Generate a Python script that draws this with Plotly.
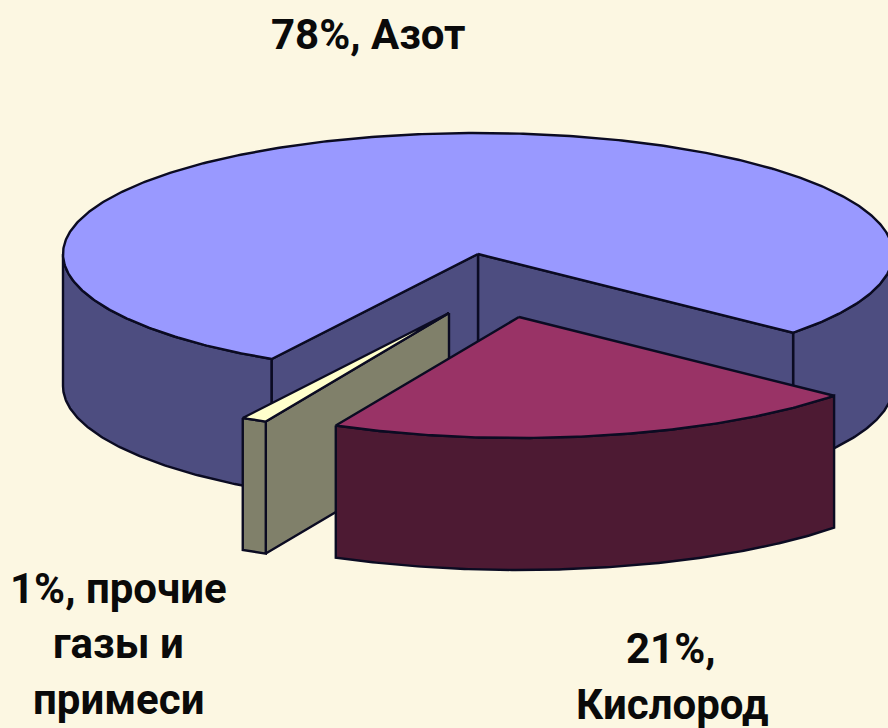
import numpy as np
import plotly.graph_objects as go

# Data
names = ["Кислород", "Прочие газы и примеси", "Азот"]
shares = [21, 1, 78]
label_lines = [["21%,", "Кислород"], ["1%, прочие", "газы и", "примеси"], ["78%, Азот"]]

# Style / projection
W, H = 888, 728
A, B, DEPTH = 415, 121, 132
START_DEG = -26.2
APEX = [(519, 317), (449, 313), (478, 254)]
TOP = ["#993366", "#FFFFCC", "#9999FF"]
SIDE = ["#4D1A33", "#80806A", "#4D4D80"]
BG = "#FCF7E2"
LABEL_POS = [(671, 648, 672, 704), (118, 588, 118, 643, 118, 699), (368, 34)]


def pt(apex, deg, drop=0):
    r = np.radians(deg)
    return apex[0] + A * np.sin(r), apex[1] + B * np.cos(r) + drop


def arc(apex, a0, a1, drop=0):
    t = np.linspace(a0, a1, max(3, int(abs(a1 - a0) * 2)))
    return pt(apex, t, drop)


def poly(fig, xs, ys, fill, lw=2.4, line="#0B0B22"):
    fig.add_trace(go.Scatter(x=list(xs) + [xs[0]], y=list(ys) + [ys[0]], mode="lines",
                             fill="toself", fillcolor=fill,
                             line=dict(color=line, width=lw), hoverinfo="skip", showlegend=False))


def outer(fig, apex, a0, a1, color):
    x0, y0 = arc(apex, a0, a1)
    x1, y1 = arc(apex, a1, a0, DEPTH)
    poly(fig, np.r_[x0, x1], np.r_[y0, y1], color)


def wall(fig, apex, deg, color):
    ex, ey = pt(apex, deg)
    poly(fig, [apex[0], ex, ex, apex[0]], [apex[1], ey, ey + DEPTH, apex[1] + DEPTH], color)


red0 = START_DEG
red1 = red0 + shares[0] * 3.6
grey1 = red0
grey0 = grey1 - shares[1] * 3.6
nit0 = red1
nit1 = nit0 + shares[2] * 3.6

fig = go.Figure()

# Nitrogen: walls, visible rim, then top
outer(fig, APEX[2], nit0, 90, SIDE[2])
outer(fig, APEX[2], 270, nit1, SIDE[2])
wall(fig, APEX[2], nit0, SIDE[2])
wall(fig, APEX[2], nit1, SIDE[2])
x, y = arc(APEX[2], nit0, nit1)
poly(fig, np.r_[APEX[2][0], x], np.r_[APEX[2][1], y], TOP[2])

# Other gases
wall(fig, APEX[1], grey1, SIDE[1])
outer(fig, APEX[1], grey0, grey1, SIDE[1])
x, y = arc(APEX[1], grey0, grey1)
poly(fig, np.r_[APEX[1][0], x], np.r_[APEX[1][1], y], TOP[1])

# Oxygen
outer(fig, APEX[0], red0, red1, SIDE[0])
x, y = arc(APEX[0], red0, red1)
poly(fig, np.r_[APEX[0][0], x], np.r_[APEX[0][1], y], TOP[0])

annotations = []
for lines, pos in zip(label_lines, LABEL_POS):
    for j, line in enumerate(lines):
        annotations.append(dict(x=pos[2 * j], y=pos[2 * j + 1], text=line, showarrow=False,
                                xref="x", yref="y", xanchor="center", yanchor="middle",
                                font=dict(family="Roboto, Liberation Sans, sans-serif",
                                          size=42, weight=700, color="#0A0A0A")))

fig.update_layout(width=W, height=H, margin=dict(l=0, r=0, t=0, b=0),
                  paper_bgcolor=BG, plot_bgcolor=BG, showlegend=False,
                  xaxis=dict(range=[0, W], visible=False, fixedrange=True),
                  yaxis=dict(range=[H, 0], visible=False, fixedrange=True),
                  annotations=annotations)
fig.write_html("out.html", config={"displayModeBar": False},
               post_script="document.body.style.margin='0';document.body.style.overflow='hidden';")
